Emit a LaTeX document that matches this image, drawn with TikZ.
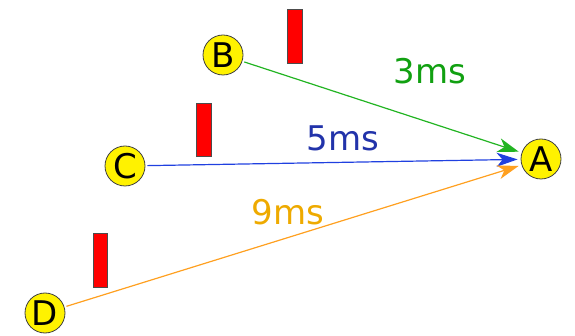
\documentclass[tikz,border=0pt]{standalone}
\usepackage{fontspec}
\setmainfont{DejaVu Sans}
\usetikzlibrary{arrows.meta}
\definecolor{lgreen}{HTML}{22B422}
\definecolor{tgreen}{HTML}{11A011}
\definecolor{lblue}{HTML}{2040E0}
\definecolor{tblue}{HTML}{2233AA}
\definecolor{lorange}{HTML}{FFA020}
\definecolor{torange}{HTML}{EEAA00}

\begin{document}
\begin{tikzpicture}[x=1pt, y=-1pt, font=\fontsize{34}{34}\selectfont, host/.style={circle, draw=black!75, fill=yellow, line width=0.8pt, minimum size=40pt, inner sep=0pt}, wall/.style={draw=black!70, fill=red, line width=0.8pt}, arr/.style={-{Stealth[length=21pt,width=14pt,inset=6pt]}, line width=1.2pt, shorten >=3pt, shorten <=2pt}]
\useasboundingbox (0,0) rectangle (575,336);
% hosts
\node[host] (A) at (541,159) {A};
\node[host] (B) at (223,55) {B};
\node[host] (C) at (125,166) {C};
\node[host] (D) at (45,313) {D};
% walls
\draw[wall] (287,9) rectangle (302,63);
\draw[wall] (196,103) rectangle (211,156);
\draw[wall] (93,233) rectangle (107,287);
% links
\draw[arr, lgreen] (B) -- (A);
\draw[arr, lblue] (C) -- (A);
\draw[arr, lorange] (D) -- (A);
\node[text=tgreen] (t3) at (430,71) {3ms};
\node[text=tblue] (t5) at (343,138) {5ms};
\node[text=torange] (t9) at (288,212) {9ms};
\end{tikzpicture}
\end{document}
